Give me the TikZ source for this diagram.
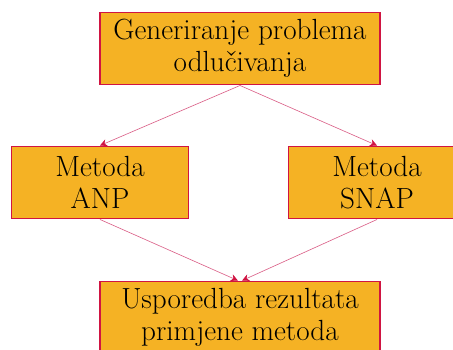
\documentclass[tikz,border=0pt]{standalone}
\usepackage{amsmath}
\usepackage{amssymb}
\usetikzlibrary{arrows.meta}
\definecolor{boxfill}{RGB}{245,178,36}
\definecolor{boxline}{RGB}{208,20,66}
\definecolor{arrline}{RGB}{218,95,135}
\tikzset{
	korak/.style={draw=boxline, fill=boxfill, line width=0.6pt, align=center, font=\fontsize{16.4}{18}\selectfont, minimum height=41pt, inner sep=2pt},
	veza/.style={draw=arrline, line width=0.35pt, -{Stealth[length=4pt,width=4pt,color=boxline]}}
}
\begin{document}
\begin{tikzpicture}[x=0.5625pt,y=-0.5625pt]
			\clip (0,0) rectangle (453,349);
			\useasboundingbox (0,0) rectangle (453,349);
			\node	(gen) at (240,48.5) [korak, minimum width=157.5pt] {Generiranje problema\\odlučivanja};
			\node	(anp) at (100,182.5) [korak, minimum width=100pt] {Metoda\\ANP};
			\node	(snap) at (377,182.5) [korak, minimum width=100pt] {Metoda\\SNAP};
			\node	(usp) at (240,317.5) [korak, minimum width=157.5pt] {Usporedba rezultata\\primjene metoda};
			
			\draw 
			(gen.south) edge[veza] (anp.north)
			(gen.south) edge[veza] (snap.north)
			(anp.south) edge[veza] ([xshift=-1.2pt]usp.north)
			(snap.south) edge[veza] ([xshift=1.2pt]usp.north)
			;
		\end{tikzpicture}
\end{document}
